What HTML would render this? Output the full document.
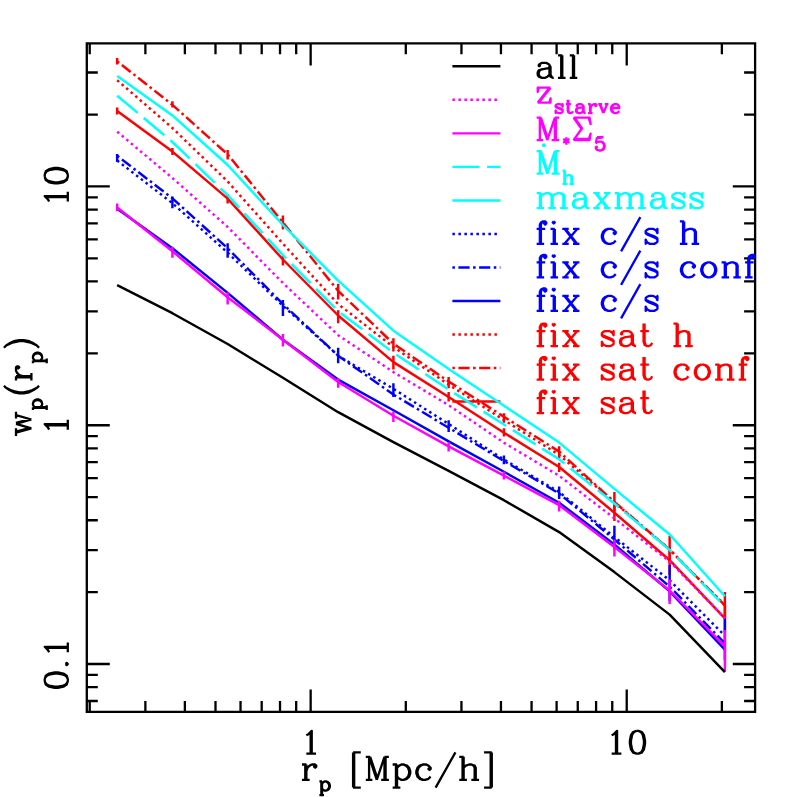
<!DOCTYPE html>
<html lang="en"><head><meta charset="utf-8"><title>w_p(r_p) vs r_p</title>
<style>
html,body{margin:0;padding:0;background:#fff}
body{width:797px;height:797px;overflow:hidden;font-family:"Liberation Serif",serif}
svg{display:block}
.t text{font-family:"Liberation Serif",serif;fill:#000;fill-opacity:0}
</style></head><body>
<svg width="797" height="797" viewBox="0 0 797 797">
<rect width="797" height="797" fill="#fff"/>
<g stroke-linecap="butt">
<path d="M86.8 43.3H755.1V711.9H86.8ZM89.73 711.9v-11M89.73 43.3v11M145.38 711.9v-11M145.38 43.3v11M184.87 711.9v-11M184.87 43.3v11M215.5 711.9v-11M215.5 43.3v11M240.53 711.9v-11M240.53 43.3v11M261.69 711.9v-11M261.69 43.3v11M280.02 711.9v-11M280.02 43.3v11M296.19 711.9v-11M296.19 43.3v11M310.65 711.9v-22.3M310.65 43.3v22.3M405.8 711.9v-11M405.8 43.3v11M461.45 711.9v-11M461.45 43.3v11M500.94 711.9v-11M500.94 43.3v11M531.57 711.9v-11M531.57 43.3v11M556.6 711.9v-11M556.6 43.3v11M577.76 711.9v-11M577.76 43.3v11M596.09 711.9v-11M596.09 43.3v11M612.26 711.9v-11M612.26 43.3v11M626.72 711.9v-22.3M626.72 43.3v22.3M721.87 711.9v-11M721.87 43.3v11M86.8 701.01h11M755.1 701.01h-11M86.8 687.16h11M755.1 687.16h-11M86.8 674.95h11M755.1 674.95h-11M86.8 664.02h23M755.1 664.02h-22.3M86.8 592.14h11M755.1 592.14h-11M86.8 550.09h11M755.1 550.09h-11M86.8 520.25h11M755.1 520.25h-11M86.8 497.11h11M755.1 497.11h-11M86.8 478.21h11M755.1 478.21h-11M86.8 462.22h11M755.1 462.22h-11M86.8 448.37h11M755.1 448.37h-11M86.8 436.16h11M755.1 436.16h-11M86.8 425.23h23M755.1 425.23h-22.3M86.8 353.35h11M755.1 353.35h-11M86.8 311.3h11M755.1 311.3h-11M86.8 281.46h11M755.1 281.46h-11M86.8 258.32h11M755.1 258.32h-11M86.8 239.42h11M755.1 239.42h-11M86.8 223.43h11M755.1 223.43h-11M86.8 209.58h11M755.1 209.58h-11M86.8 197.37h11M755.1 197.37h-11M86.8 186.44h23M755.1 186.44h-22.3M86.8 114.56h11M755.1 114.56h-11M86.8 72.51h11M755.1 72.51h-11" fill="none" stroke="#000" stroke-width="2.3" stroke-linejoin="miter"/>
<path d="M117.15 111 L172.4 151.6 L227.65 198.6 L282.9 259.5 L338.15 315.5 L393.4 362.1 L448.65 397 L503.9 432.7 L559.15 467 L614.4 512.7 L669.65 560.2 L724.9 618.3" fill="none" stroke="#f00" stroke-width="2.45" stroke-linejoin="round"/>
<path d="M117.15 107.6V114.4M172.4 148V155M227.65 194V203.4M282.9 255.8V265.5M338.15 310.2V323.3M393.4 355.8V369.6M448.65 392V401.5M503.9 428.3V436.5M559.15 462.7V472M614.4 505V520.9M669.65 547V575M724.9 605V632" fill="none" stroke="#f00" stroke-width="2.45"/>
<path d="M452.4 401.55H500.4" fill="none" stroke="#f00" stroke-width="2.45" stroke-linejoin="round"/>
<path d="M117.15 61.3 L172.4 104.8 L227.65 154.4 L282.9 222.5 L338.15 290.9 L393.4 343.7 L448.65 381.5 L503.9 416.7 L559.15 451.6 L614.4 502 L669.65 549.6 L724.9 605.5" fill="none" stroke="#f00" stroke-width="2.45" stroke-dasharray="2.5 3.5 11.2 3.5" stroke-linejoin="round"/>
<path d="M117.15 58V64.6M172.4 101.3V107.6M227.65 150V159.5M282.9 215.6V229.5M338.15 283.8V299.5M393.4 338.2V351.4M448.65 377V388.3M503.9 413.2V422.7M559.15 446.3V458.3M614.4 492V511.5M669.65 535.8V563.4M724.9 592V618" fill="none" stroke="#f00" stroke-width="2.45"/>
<path d="M452.4 368.02H500.4" fill="none" stroke="#f00" stroke-width="2.45" stroke-dasharray="2.5 3.5 11.2 3.5" stroke-linejoin="round"/>
<path d="M117.15 80.2 L172.4 128 L227.65 181.5 L282.9 243.7 L338.15 304.1 L393.4 347 L448.65 384.6 L503.9 420 L559.15 454.9 L614.4 502.3 L669.65 549.6 L724.9 605.3" fill="none" stroke="#f00" stroke-width="2.45" stroke-dasharray="2.5 3.5" stroke-linejoin="round"/>
<path d="M452.4 334.5H500.4" fill="none" stroke="#f00" stroke-width="2.45" stroke-dasharray="2.5 3.5" stroke-linejoin="round"/>
<path d="M117.15 208.8 L172.4 248.2 L227.65 292.9 L282.9 339.7 L338.15 379.6 L393.4 410.2 L448.65 441.4 L503.9 471.8 L559.15 502.7 L614.4 544.5 L669.65 591.4 L724.9 649.6" fill="none" stroke="#00f" stroke-width="2.45" stroke-linejoin="round"/>
<path d="M452.4 300.97H500.4" fill="none" stroke="#00f" stroke-width="2.45" stroke-linejoin="round"/>
<path d="M117.15 155.8 L172.4 198.3 L227.65 248.3 L282.9 304 L338.15 355.7 L393.4 394.5 L448.65 427.8 L503.9 461 L559.15 493.5 L614.4 539.5 L669.65 586.6 L724.9 643.4" fill="none" stroke="#00f" stroke-width="2.45" stroke-dasharray="2.5 3.5 11.2 3.5" stroke-linejoin="round"/>
<path d="M117.15 154V162M172.4 196.4V208.2M227.65 243.3V257.7M282.9 300.1V316.1M338.15 347.7V363.3M393.4 383.3V397.1M448.65 420.2V432.1M503.9 455.5V464.3M559.15 486.5V499M614.4 525.7V549.3M669.65 565V601M724.9 618V660" fill="none" stroke="#00f" stroke-width="2.45"/>
<path d="M452.4 267.45H500.4" fill="none" stroke="#00f" stroke-width="2.45" stroke-dasharray="2.5 3.5 11.2 3.5" stroke-linejoin="round"/>
<path d="M117.15 160.5 L172.4 203.2 L227.65 252.7 L282.9 305.8 L338.15 355.7 L393.4 388.8 L448.65 424 L503.9 459.5 L559.15 492 L614.4 537 L669.65 580.3 L724.9 635.9" fill="none" stroke="#00f" stroke-width="2.45" stroke-dasharray="2.5 3.5" stroke-linejoin="round"/>
<path d="M452.4 233.93H500.4" fill="none" stroke="#00f" stroke-width="2.45" stroke-dasharray="2.5 3.5" stroke-linejoin="round"/>
<path d="M117.15 76.1 L172.4 115.4 L227.65 165 L282.9 225 L338.15 280.7 L393.4 330.7 L448.65 368.9 L503.9 405.7 L559.15 442.6 L614.4 488.9 L669.65 534.5 L724.9 596.3" fill="none" stroke="#0ff" stroke-width="2.45" stroke-linejoin="round"/>
<path d="M452.4 200.4H500.4" fill="none" stroke="#0ff" stroke-width="2.45" stroke-linejoin="round"/>
<path d="M117.15 95.7 L172.4 142 L227.65 195.2 L282.9 255.2 L338.15 311.2 L393.4 352.7 L448.65 389.6 L503.9 424.5 L559.15 459.2 L614.4 503.5 L669.65 549.9 L724.9 606.5" fill="none" stroke="#0ff" stroke-width="2.45" stroke-dasharray="26.8 7.9" stroke-linejoin="round"/>
<path d="M452.4 166.88H500.4" fill="none" stroke="#0ff" stroke-width="2.45" stroke-dasharray="26.8 7.9" stroke-linejoin="round"/>
<path d="M117.15 207.5 L172.4 251.3 L227.65 297.3 L282.9 339.7 L338.15 382 L393.4 415.8 L448.65 446.4 L503.9 475.6 L559.15 505.2 L614.4 547 L669.65 590.5 L724.9 646.4" fill="none" stroke="#f0f" stroke-width="2.45" stroke-linejoin="round"/>
<path d="M117.15 203.5V211.3M172.4 246.7V257.7M227.65 292.3V304.5M282.9 334V346.5M338.15 378.3V387.7M393.4 411.4V422.1M448.65 442V451.4M503.9 471.4V479.5M559.15 500.8V511.5M614.4 539.5V556.4M669.65 579.4V603.9M724.9 630V671.4" fill="none" stroke="#f0f" stroke-width="2.45"/>
<path d="M452.4 133.35H500.4" fill="none" stroke="#f0f" stroke-width="2.45" stroke-linejoin="round"/>
<path d="M117.15 131.7 L172.4 178 L227.65 227 L282.9 283 L338.15 335.2 L393.4 372.1 L448.65 405.2 L503.9 442.7 L559.15 475.8 L614.4 518.4 L669.65 561.5 L724.9 618.3" fill="none" stroke="#f0f" stroke-width="2.45" stroke-dasharray="2.5 3.5" stroke-linejoin="round"/>
<path d="M452.4 99.82H500.4" fill="none" stroke="#f0f" stroke-width="2.45" stroke-dasharray="2.5 3.5" stroke-linejoin="round"/>
<path d="M117.15 285.1 L172.4 313.2 L227.65 344 L282.9 377.8 L338.15 412.2 L393.4 442.1 L448.65 470.9 L503.9 500.2 L559.15 532.1 L614.4 572.1 L669.65 614.6 L724.9 672.1" fill="none" stroke="#000" stroke-width="2.45" stroke-linejoin="round"/>
<path d="M452.4 66.3H500.4" fill="none" stroke="#000" stroke-width="2.45" stroke-linejoin="round"/>
<path d="M539.84 64.99 539.84 66.06 538.77 66.06 538.77 64.99 539.84 63.92 541.98 62.85 546.26 62.85 548.4 63.92 549.47 64.99 550.54 67.13 550.54 74.62 551.61 76.77 552.68 77.83M549.47 64.99 549.47 74.62 550.54 76.77 552.68 77.83 553.75 77.83M549.47 67.13 548.4 68.2 541.98 69.27 538.77 70.34 537.7 72.48 537.7 74.62 538.77 76.77 541.98 77.83 545.19 77.83 547.33 76.77 549.47 74.62M541.98 69.27 539.84 70.34 538.77 72.48 538.77 74.62 539.84 76.77 541.98 77.83M561.23 55.36 561.23 77.83M562.29 55.36 562.29 77.83M558.01 55.36 562.29 55.36M558.01 77.83 565.5 77.83M572.98 55.36 572.98 77.83M574.05 55.36 574.05 77.83M569.77 55.36 574.05 55.36M569.77 77.83 577.26 77.83" fill="none" stroke="#000" stroke-width="2.3" stroke-linejoin="round"/>
<path d="M549.47 87.67 537.7 102.65M550.54 87.67 538.77 102.65M538.77 87.67 537.7 91.95 537.7 87.67 550.54 87.67M537.7 102.65 550.54 102.65 550.54 98.37 549.47 102.65M562.01 105.45 562.65 104.17 562.65 106.72 562.01 105.45 561.38 104.81 560.1 104.17 557.56 104.17 556.28 104.81 555.65 105.45 555.65 106.72 556.28 107.36 557.56 107.99 560.74 109.27 562.01 109.9 562.65 110.54M555.65 106.08 556.28 106.72 557.56 107.36 560.74 108.63 562.01 109.27 562.65 109.9 562.65 111.81 562.01 112.45 560.74 113.09 558.19 113.09 556.92 112.45 556.28 111.81 555.65 110.54 555.65 113.09 556.28 111.81M567.73 99.72 567.73 110.54 568.37 112.45 569.64 113.09 570.92 113.09 572.19 112.45 572.83 111.18M568.37 99.72 568.37 110.54 569.01 112.45 569.64 113.09M565.82 104.17 570.92 104.17M577.27 105.45 577.27 106.08 576.64 106.08 576.64 105.45 577.27 104.81 578.55 104.17 581.09 104.17 582.37 104.81 583 105.45 583.64 106.72 583.64 111.18 584.28 112.45 584.91 113.09M583 105.45 583 111.18 583.64 112.45 584.91 113.09 585.55 113.09M583 106.72 582.37 107.36 578.55 107.99 576.64 108.63 576 109.9 576 111.18 576.64 112.45 578.55 113.09 580.46 113.09 581.73 112.45 583 111.18M578.55 107.99 577.27 108.63 576.64 109.9 576.64 111.18 577.27 112.45 578.55 113.09M589.99 104.17 589.99 113.09M590.63 104.17 590.63 113.09M590.63 107.99 591.27 106.08 592.54 104.81 593.81 104.17 595.72 104.17 596.36 104.81 596.36 105.45 595.72 106.08 595.09 105.45 595.72 104.81M588.08 104.17 590.63 104.17M588.08 113.09 592.54 113.09M599.53 104.17 603.35 113.09M600.17 104.17 603.35 111.81M607.17 104.17 603.35 113.09M598.26 104.17 602.08 104.17M604.63 104.17 608.45 104.17M611.62 107.99 619.26 107.99 619.26 106.72 618.62 105.45 617.99 104.81 616.71 104.17 614.8 104.17 612.89 104.81 611.62 106.08 610.98 107.99 610.98 109.27 611.62 111.18 612.89 112.45 614.8 113.09 616.08 113.09 617.99 112.45 619.26 111.18M618.62 107.99 618.62 106.08 617.99 104.81M614.8 104.17 613.53 104.81 612.26 106.08 611.62 107.99 611.62 109.27 612.26 111.18 613.53 112.45 614.8 113.09" fill="none" stroke="#f0f" stroke-width="2.3" stroke-linejoin="round"/>
<path d="M539.84 117.6 539.84 140.07M540.91 117.6 547.33 136.86M539.84 117.6 547.33 140.07M554.82 117.6 547.33 140.07M554.82 117.6 554.82 140.07M555.89 117.6 555.89 140.07M536.63 117.6 540.91 117.6M554.82 117.6 559.1 117.6M536.63 140.07 543.05 140.07M551.61 140.07 559.1 140.07M566.31 137.13 566.31 144.77M563.13 139.04 569.5 142.86M569.5 139.04 563.13 142.86M574.6 117.6 582.09 128.3 573.53 140.07M573.53 117.6 581.02 128.3M573.53 117.6 589.58 117.6 590.65 124.02 588.51 117.6M574.6 139 588.51 139M573.53 140.07 589.58 140.07 590.65 133.65 588.51 140.07M597.03 137.13 595.75 143.5M595.75 143.5 597.03 142.23 598.94 141.59 600.85 141.59 602.76 142.23 604.03 143.5 604.67 145.41 604.67 146.68 604.03 148.59 602.76 149.87 600.85 150.5 598.94 150.5 597.03 149.87 596.39 149.23 595.75 147.96 595.75 147.32 596.39 146.68 597.03 147.32 596.39 147.96M600.85 141.59 602.12 142.23 603.39 143.5 604.03 145.41 604.03 146.68 603.39 148.59 602.12 149.87 600.85 150.5M597.03 137.13 603.39 137.13M597.03 137.77 600.21 137.77 603.39 137.13" fill="none" stroke="#f0f" stroke-width="2.3" stroke-linejoin="round"/>
<path d="M539.84 151.12 539.84 173.59M540.91 151.12 547.33 170.38M539.84 151.12 547.33 173.59M554.82 151.12 547.33 173.59M554.82 151.12 554.82 173.59M555.89 151.12 555.89 173.59M536.63 151.12 540.91 151.12M554.82 151.12 559.1 151.12M536.63 173.59 543.05 173.59M551.61 173.59 559.1 173.59M564.4 170.66 564.4 184.03M565.04 170.66 565.04 184.03M565.04 177.02 566.31 175.75 568.22 175.11 569.49 175.11 571.4 175.75 572.04 177.02 572.04 184.03M569.49 175.11 570.77 175.75 571.4 177.02 571.4 184.03M562.49 170.66 565.04 170.66M562.49 184.03 566.95 184.03M569.49 184.03 573.95 184.03" fill="none" stroke="#0ff" stroke-width="2.3" stroke-linejoin="round"/>
<circle cx="543.9" cy="145.3" r="2" fill="#0ff"/>
<path d="M539.83 193.21 539.83 208.19M540.9 193.21 540.9 208.19M540.9 196.42 543.04 194.28 546.25 193.21 548.39 193.21 551.6 194.28 552.67 196.42 552.67 208.19M548.39 193.21 550.53 194.28 551.6 196.42 551.6 208.19M552.67 196.42 554.81 194.28 558.02 193.21 560.16 193.21 563.37 194.28 564.44 196.42 564.44 208.19M560.16 193.21 562.3 194.28 563.37 196.42 563.37 208.19M536.62 193.21 540.9 193.21M536.62 208.19 544.11 208.19M548.39 208.19 555.88 208.19M560.16 208.19 567.65 208.19M575.12 195.35 575.12 196.42 574.05 196.42 574.05 195.35 575.12 194.28 577.26 193.21 581.54 193.21 583.68 194.28 584.75 195.35 585.82 197.49 585.82 204.98 586.89 207.12 587.96 208.19M584.75 195.35 584.75 204.98 585.82 207.12 587.96 208.19 589.03 208.19M584.75 197.49 583.68 198.56 577.26 199.63 574.05 200.7 572.98 202.84 572.98 204.98 574.05 207.12 577.26 208.19 580.47 208.19 582.61 207.12 584.75 204.98M577.26 199.63 575.12 200.7 574.05 202.84 574.05 204.98 575.12 207.12 577.26 208.19M595.43 193.21 607.2 208.19M596.5 193.21 608.27 208.19M608.27 193.21 595.43 208.19M593.29 193.21 599.71 193.21M603.99 193.21 610.41 193.21M593.29 208.19 599.71 208.19M603.99 208.19 610.41 208.19M617.87 193.21 617.87 208.19M618.94 193.21 618.94 208.19M618.94 196.42 621.08 194.28 624.29 193.21 626.43 193.21 629.64 194.28 630.71 196.42 630.71 208.19M626.43 193.21 628.57 194.28 629.64 196.42 629.64 208.19M630.71 196.42 632.85 194.28 636.06 193.21 638.2 193.21 641.41 194.28 642.48 196.42 642.48 208.19M638.2 193.21 640.34 194.28 641.41 196.42 641.41 208.19M614.66 193.21 618.94 193.21M614.66 208.19 622.15 208.19M626.43 208.19 633.92 208.19M638.2 208.19 645.69 208.19M653.15 195.35 653.15 196.42 652.09 196.42 652.09 195.35 653.15 194.28 655.29 193.21 659.58 193.21 661.72 194.28 662.78 195.35 663.86 197.49 663.86 204.98 664.92 207.12 666 208.19M662.78 195.35 662.78 204.98 663.86 207.12 666 208.19 667.07 208.19M662.78 197.49 661.72 198.56 655.29 199.63 652.09 200.7 651.01 202.84 651.01 204.98 652.09 207.12 655.29 208.19 658.5 208.19 660.64 207.12 662.78 204.98M655.29 199.63 653.15 200.7 652.09 202.84 652.09 204.98 653.15 207.12 655.29 208.19M683.1 195.35 684.17 193.21 684.17 197.49 683.1 195.35 682.03 194.28 679.89 193.21 675.61 193.21 673.47 194.28 672.4 195.35 672.4 197.49 673.47 198.56 675.61 199.63 680.96 201.77 683.1 202.84 684.17 203.91M672.4 196.42 673.47 197.49 675.61 198.56 680.96 200.7 683.1 201.77 684.17 202.84 684.17 206.05 683.1 207.12 680.96 208.19 676.68 208.19 674.54 207.12 673.47 206.05 672.4 203.91 672.4 208.19 673.47 206.05M701.27 195.35 702.34 193.21 702.34 197.49 701.27 195.35 700.2 194.28 698.06 193.21 693.78 193.21 691.64 194.28 690.57 195.35 690.57 197.49 691.64 198.56 693.78 199.63 699.13 201.77 701.27 202.84 702.34 203.91M690.57 196.42 691.64 197.49 693.78 198.56 699.13 200.7 701.27 201.77 702.34 202.84 702.34 206.05 701.27 207.12 699.13 208.19 694.85 208.19 692.71 207.12 691.64 206.05 690.57 203.91 690.57 208.19 691.64 206.05" fill="none" stroke="#0ff" stroke-width="2.3" stroke-linejoin="round"/>
<path d="M545.19 222.46 544.12 223.53 545.19 224.6 546.26 223.53 546.26 222.46 545.19 221.39 543.05 221.39 540.91 222.46 539.84 224.6 539.84 243.86M543.05 221.39 541.98 222.46 540.91 224.6 540.91 243.86M536.63 228.88 545.19 228.88M536.63 243.86 544.12 243.86M553.74 221.39 552.67 222.46 553.74 223.53 554.81 222.46 553.74 221.39M553.74 228.88 553.74 243.86M554.81 228.88 554.81 243.86M550.53 228.88 554.81 228.88M550.53 243.86 558.02 243.86M564.43 228.88 576.2 243.86M565.5 228.88 577.27 243.86M577.27 228.88 564.43 243.86M562.29 228.88 568.71 228.88M572.99 228.88 579.41 228.88M562.29 243.86 568.71 243.86M572.99 243.86 579.41 243.86M614.68 232.09 613.61 233.16 614.68 234.23 615.75 233.16 615.75 232.09 613.61 229.95 611.47 228.88 608.26 228.88 605.05 229.95 602.91 232.09 601.84 235.3 601.84 237.44 602.91 240.65 605.05 242.79 608.26 243.86 610.4 243.86 613.61 242.79 615.75 240.65M608.26 228.88 606.12 229.95 603.98 232.09 602.91 235.3 602.91 237.44 603.98 240.65 606.12 242.79 608.26 243.86M640.34 217.11 621.08 251.35M656.37 231.02 657.44 228.88 657.44 233.16 656.37 231.02 655.3 229.95 653.16 228.88 648.88 228.88 646.74 229.95 645.67 231.02 645.67 233.16 646.74 234.23 648.88 235.3 654.23 237.44 656.37 238.51 657.44 239.58M645.67 232.09 646.74 233.16 648.88 234.23 654.23 236.37 656.37 237.44 657.44 238.51 657.44 241.72 656.37 242.79 654.23 243.86 649.95 243.86 647.81 242.79 646.74 241.72 645.67 239.58 645.67 243.86 646.74 241.72M683.09 221.39 683.09 243.86M684.15 221.39 684.15 243.86M684.15 232.09 686.29 229.95 689.5 228.88 691.64 228.88 694.86 229.95 695.92 232.09 695.92 243.86M691.64 228.88 693.78 229.95 694.86 232.09 694.86 243.86M679.88 221.39 684.15 221.39M679.88 243.86 687.37 243.86M691.64 243.86 699.13 243.86" fill="none" stroke="#00f" stroke-width="2.3" stroke-linejoin="round"/>
<path d="M545.19 255.98 544.12 257.05 545.19 258.12 546.26 257.05 546.26 255.98 545.19 254.91 543.05 254.91 540.91 255.98 539.84 258.12 539.84 277.38M543.05 254.91 541.98 255.98 540.91 258.12 540.91 277.38M536.63 262.4 545.19 262.4M536.63 277.38 544.12 277.38M553.74 254.91 552.67 255.98 553.74 257.05 554.81 255.98 553.74 254.91M553.74 262.4 553.74 277.38M554.81 262.4 554.81 277.38M550.53 262.4 554.81 262.4M550.53 277.38 558.02 277.38M564.43 262.4 576.2 277.38M565.5 262.4 577.27 277.38M577.27 262.4 564.43 277.38M562.29 262.4 568.71 262.4M572.99 262.4 579.41 262.4M562.29 277.38 568.71 277.38M572.99 277.38 579.41 277.38M614.68 265.61 613.61 266.68 614.68 267.75 615.75 266.68 615.75 265.61 613.61 263.47 611.47 262.4 608.26 262.4 605.05 263.47 602.91 265.61 601.84 268.82 601.84 270.96 602.91 274.17 605.05 276.31 608.26 277.38 610.4 277.38 613.61 276.31 615.75 274.17M608.26 262.4 606.12 263.47 603.98 265.61 602.91 268.82 602.91 270.96 603.98 274.17 606.12 276.31 608.26 277.38M640.34 250.63 621.08 284.87M656.37 264.54 657.44 262.4 657.44 266.68 656.37 264.54 655.3 263.47 653.16 262.4 648.88 262.4 646.74 263.47 645.67 264.54 645.67 266.68 646.74 267.75 648.88 268.82 654.23 270.96 656.37 272.03 657.44 273.1M645.67 265.61 646.74 266.68 648.88 267.75 654.23 269.89 656.37 270.96 657.44 272.03 657.44 275.24 656.37 276.31 654.23 277.38 649.95 277.38 647.81 276.31 646.74 275.24 645.67 273.1 645.67 277.38 646.74 275.24M693.79 265.61 692.72 266.68 693.79 267.75 694.86 266.68 694.86 265.61 692.72 263.47 690.58 262.4 687.37 262.4 684.16 263.47 682.02 265.61 680.95 268.82 680.95 270.96 682.02 274.17 684.16 276.31 687.37 277.38 689.51 277.38 692.72 276.31 694.86 274.17M687.37 262.4 685.23 263.47 683.09 265.61 682.02 268.82 682.02 270.96 683.09 274.17 685.23 276.31 687.37 277.38M707.68 262.4 704.47 263.47 702.33 265.61 701.26 268.82 701.26 270.96 702.33 274.17 704.47 276.31 707.68 277.38 709.82 277.38 713.03 276.31 715.17 274.17 716.24 270.96 716.24 268.82 715.17 265.61 713.03 263.47 709.82 262.4 707.68 262.4M707.68 262.4 705.54 263.47 703.4 265.61 702.33 268.82 702.33 270.96 703.4 274.17 705.54 276.31 707.68 277.38M709.82 277.38 711.96 276.31 714.1 274.17 715.17 270.96 715.17 268.82 714.1 265.61 711.96 263.47 709.82 262.4M724.78 262.4 724.78 277.38M725.85 262.4 725.85 277.38M725.85 265.61 727.99 263.47 731.2 262.4 733.34 262.4 736.55 263.47 737.62 265.61 737.62 277.38M733.34 262.4 735.48 263.47 736.55 265.61 736.55 277.38M721.57 262.4 725.85 262.4M721.57 277.38 729.06 277.38M733.34 277.38 740.83 277.38M753.65 255.98 752.58 257.05 753.65 258.12 754.72 257.05 754.72 255.98 753.65 254.91 751.51 254.91 749.37 255.98 748.3 258.12 748.3 277.38M751.51 254.91 750.44 255.98 749.37 258.12 749.37 277.38M745.09 262.4 753.65 262.4M745.09 277.38 752.58 277.38" fill="none" stroke="#00f" stroke-width="2.3" stroke-linejoin="round"/>
<path d="M545.19 289.5 544.12 290.57 545.19 291.64 546.26 290.57 546.26 289.5 545.19 288.43 543.05 288.43 540.91 289.5 539.84 291.64 539.84 310.9M543.05 288.43 541.98 289.5 540.91 291.64 540.91 310.9M536.63 295.92 545.19 295.92M536.63 310.9 544.12 310.9M553.74 288.43 552.67 289.5 553.74 290.57 554.81 289.5 553.74 288.43M553.74 295.92 553.74 310.9M554.81 295.92 554.81 310.9M550.53 295.92 554.81 295.92M550.53 310.9 558.02 310.9M564.43 295.92 576.2 310.9M565.5 295.92 577.27 310.9M577.27 295.92 564.43 310.9M562.29 295.92 568.71 295.92M572.99 295.92 579.41 295.92M562.29 310.9 568.71 310.9M572.99 310.9 579.41 310.9M614.68 299.13 613.61 300.2 614.68 301.27 615.75 300.2 615.75 299.13 613.61 296.99 611.47 295.92 608.26 295.92 605.05 296.99 602.91 299.13 601.84 302.34 601.84 304.48 602.91 307.69 605.05 309.83 608.26 310.9 610.4 310.9 613.61 309.83 615.75 307.69M608.26 295.92 606.12 296.99 603.98 299.13 602.91 302.34 602.91 304.48 603.98 307.69 606.12 309.83 608.26 310.9M640.34 284.15 621.08 318.39M656.37 298.06 657.44 295.92 657.44 300.2 656.37 298.06 655.3 296.99 653.16 295.92 648.88 295.92 646.74 296.99 645.67 298.06 645.67 300.2 646.74 301.27 648.88 302.34 654.23 304.48 656.37 305.55 657.44 306.62M645.67 299.13 646.74 300.2 648.88 301.27 654.23 303.41 656.37 304.48 657.44 305.55 657.44 308.76 656.37 309.83 654.23 310.9 649.95 310.9 647.81 309.83 646.74 308.76 645.67 306.62 645.67 310.9 646.74 308.76" fill="none" stroke="#00f" stroke-width="2.3" stroke-linejoin="round"/>
<path d="M545.19 324.64 544.12 325.71 545.19 326.78 546.26 325.71 546.26 324.64 545.19 323.56 543.05 323.56 540.91 324.64 539.84 326.78 539.84 346.04M543.05 323.56 541.98 324.64 540.91 326.78 540.91 346.04M536.63 331.06 545.19 331.06M536.63 346.04 544.12 346.04M553.74 323.56 552.67 324.64 553.74 325.71 554.81 324.64 553.74 323.56M553.74 331.06 553.74 346.04M554.81 331.06 554.81 346.04M550.53 331.06 554.81 331.06M550.53 346.04 558.02 346.04M564.43 331.06 576.2 346.04M565.5 331.06 577.27 346.04M577.27 331.06 564.43 346.04M562.29 331.06 568.71 331.06M572.99 331.06 579.41 331.06M562.29 346.04 568.71 346.04M572.99 346.04 579.41 346.04M612.54 333.2 613.61 331.06 613.61 335.34 612.54 333.2 611.47 332.12 609.33 331.06 605.05 331.06 602.91 332.12 601.84 333.2 601.84 335.34 602.91 336.41 605.05 337.48 610.4 339.62 612.54 340.69 613.61 341.76M601.84 334.27 602.91 335.34 605.05 336.41 610.4 338.55 612.54 339.62 613.61 340.69 613.61 343.9 612.54 344.97 610.4 346.04 606.12 346.04 603.98 344.97 602.91 343.9 601.84 341.76 601.84 346.04 602.91 343.9M622.15 333.2 622.15 334.27 621.08 334.27 621.08 333.2 622.15 332.12 624.29 331.06 628.57 331.06 630.71 332.12 631.78 333.2 632.85 335.34 632.85 342.83 633.92 344.97 634.99 346.04M631.78 333.2 631.78 342.83 632.85 344.97 634.99 346.04 636.06 346.04M631.78 335.34 630.71 336.41 624.29 337.48 621.08 338.55 620.01 340.69 620.01 342.83 621.08 344.97 624.29 346.04 627.5 346.04 629.64 344.97 631.78 342.83M624.29 337.48 622.15 338.55 621.08 340.69 621.08 342.83 622.15 344.97 624.29 346.04M643.54 323.56 643.54 341.76 644.61 344.97 646.75 346.04 648.89 346.04 651.03 344.97 652.1 342.83M644.61 323.56 644.61 341.76 645.68 344.97 646.75 346.04M640.33 331.06 648.89 331.06M676.67 323.56 676.67 346.04M677.74 323.56 677.74 346.04M677.74 334.27 679.88 332.12 683.09 331.06 685.23 331.06 688.44 332.12 689.51 334.27 689.51 346.04M685.23 331.06 687.37 332.12 688.44 334.27 688.44 346.04M673.46 323.56 677.74 323.56M673.46 346.04 680.95 346.04M685.23 346.04 692.72 346.04" fill="none" stroke="#f00" stroke-width="2.3" stroke-linejoin="round"/>
<path d="M545.19 358.16 544.12 359.23 545.19 360.3 546.26 359.23 546.26 358.16 545.19 357.09 543.05 357.09 540.91 358.16 539.84 360.3 539.84 379.56M543.05 357.09 541.98 358.16 540.91 360.3 540.91 379.56M536.63 364.58 545.19 364.58M536.63 379.56 544.12 379.56M553.74 357.09 552.67 358.16 553.74 359.23 554.81 358.16 553.74 357.09M553.74 364.58 553.74 379.56M554.81 364.58 554.81 379.56M550.53 364.58 554.81 364.58M550.53 379.56 558.02 379.56M564.43 364.58 576.2 379.56M565.5 364.58 577.27 379.56M577.27 364.58 564.43 379.56M562.29 364.58 568.71 364.58M572.99 364.58 579.41 364.58M562.29 379.56 568.71 379.56M572.99 379.56 579.41 379.56M612.54 366.72 613.61 364.58 613.61 368.86 612.54 366.72 611.47 365.65 609.33 364.58 605.05 364.58 602.91 365.65 601.84 366.72 601.84 368.86 602.91 369.93 605.05 371 610.4 373.14 612.54 374.21 613.61 375.28M601.84 367.79 602.91 368.86 605.05 369.93 610.4 372.07 612.54 373.14 613.61 374.21 613.61 377.42 612.54 378.49 610.4 379.56 606.12 379.56 603.98 378.49 602.91 377.42 601.84 375.28 601.84 379.56 602.91 377.42M622.15 366.72 622.15 367.79 621.08 367.79 621.08 366.72 622.15 365.65 624.29 364.58 628.57 364.58 630.71 365.65 631.78 366.72 632.85 368.86 632.85 376.35 633.92 378.49 634.99 379.56M631.78 366.72 631.78 376.35 632.85 378.49 634.99 379.56 636.06 379.56M631.78 368.86 630.71 369.93 624.29 371 621.08 372.07 620.01 374.21 620.01 376.35 621.08 378.49 624.29 379.56 627.5 379.56 629.64 378.49 631.78 376.35M624.29 371 622.15 372.07 621.08 374.21 621.08 376.35 622.15 378.49 624.29 379.56M643.54 357.09 643.54 375.28 644.61 378.49 646.75 379.56 648.89 379.56 651.03 378.49 652.1 376.35M644.61 357.09 644.61 375.28 645.68 378.49 646.75 379.56M640.33 364.58 648.89 364.58M687.37 367.79 686.3 368.86 687.37 369.93 688.44 368.86 688.44 367.79 686.3 365.65 684.16 364.58 680.95 364.58 677.74 365.65 675.6 367.79 674.53 371 674.53 373.14 675.6 376.35 677.74 378.49 680.95 379.56 683.09 379.56 686.3 378.49 688.44 376.35M680.95 364.58 678.81 365.65 676.67 367.79 675.6 371 675.6 373.14 676.67 376.35 678.81 378.49 680.95 379.56M701.26 364.58 698.05 365.65 695.91 367.79 694.84 371 694.84 373.14 695.91 376.35 698.05 378.49 701.26 379.56 703.4 379.56 706.61 378.49 708.75 376.35 709.82 373.14 709.82 371 708.75 367.79 706.61 365.65 703.4 364.58 701.26 364.58M701.26 364.58 699.12 365.65 696.98 367.79 695.91 371 695.91 373.14 696.98 376.35 699.12 378.49 701.26 379.56M703.4 379.56 705.54 378.49 707.68 376.35 708.75 373.14 708.75 371 707.68 367.79 705.54 365.65 703.4 364.58M718.36 364.58 718.36 379.56M719.43 364.58 719.43 379.56M719.43 367.79 721.57 365.65 724.78 364.58 726.92 364.58 730.13 365.65 731.2 367.79 731.2 379.56M726.92 364.58 729.06 365.65 730.13 367.79 730.13 379.56M715.15 364.58 719.43 364.58M715.15 379.56 722.64 379.56M726.92 379.56 734.41 379.56M747.23 358.16 746.16 359.23 747.23 360.3 748.3 359.23 748.3 358.16 747.23 357.09 745.09 357.09 742.95 358.16 741.88 360.3 741.88 379.56M745.09 357.09 744.02 358.16 742.95 360.3 742.95 379.56M738.67 364.58 747.23 364.58M738.67 379.56 746.16 379.56" fill="none" stroke="#f00" stroke-width="2.3" stroke-linejoin="round"/>
<path d="M545.19 391.69 544.12 392.76 545.19 393.83 546.26 392.76 546.26 391.69 545.19 390.62 543.05 390.62 540.91 391.69 539.84 393.83 539.84 413.09M543.05 390.62 541.98 391.69 540.91 393.83 540.91 413.09M536.63 398.11 545.19 398.11M536.63 413.09 544.12 413.09M553.74 390.62 552.67 391.69 553.74 392.76 554.81 391.69 553.74 390.62M553.74 398.11 553.74 413.09M554.81 398.11 554.81 413.09M550.53 398.11 554.81 398.11M550.53 413.09 558.02 413.09M564.43 398.11 576.2 413.09M565.5 398.11 577.27 413.09M577.27 398.11 564.43 413.09M562.29 398.11 568.71 398.11M572.99 398.11 579.41 398.11M562.29 413.09 568.71 413.09M572.99 413.09 579.41 413.09M612.54 400.25 613.61 398.11 613.61 402.39 612.54 400.25 611.47 399.18 609.33 398.11 605.05 398.11 602.91 399.18 601.84 400.25 601.84 402.39 602.91 403.46 605.05 404.53 610.4 406.67 612.54 407.74 613.61 408.81M601.84 401.32 602.91 402.39 605.05 403.46 610.4 405.6 612.54 406.67 613.61 407.74 613.61 410.95 612.54 412.02 610.4 413.09 606.12 413.09 603.98 412.02 602.91 410.95 601.84 408.81 601.84 413.09 602.91 410.95M622.15 400.25 622.15 401.32 621.08 401.32 621.08 400.25 622.15 399.18 624.29 398.11 628.57 398.11 630.71 399.18 631.78 400.25 632.85 402.39 632.85 409.88 633.92 412.02 634.99 413.09M631.78 400.25 631.78 409.88 632.85 412.02 634.99 413.09 636.06 413.09M631.78 402.39 630.71 403.46 624.29 404.53 621.08 405.6 620.01 407.74 620.01 409.88 621.08 412.02 624.29 413.09 627.5 413.09 629.64 412.02 631.78 409.88M624.29 404.53 622.15 405.6 621.08 407.74 621.08 409.88 622.15 412.02 624.29 413.09M643.54 390.62 643.54 408.81 644.61 412.02 646.75 413.09 648.89 413.09 651.03 412.02 652.1 409.88M644.61 390.62 644.61 408.81 645.68 412.02 646.75 413.09M640.33 398.11 648.89 398.11" fill="none" stroke="#f00" stroke-width="2.3" stroke-linejoin="round"/>
<path d="M305.27 764.5 305.27 779.9M306.37 764.5 306.37 779.9M306.37 771.1 307.47 767.8 309.67 765.6 311.87 764.5 315.17 764.5 316.27 765.6 316.27 766.7 315.17 767.8 314.07 766.7 315.17 765.6M301.97 764.5 306.37 764.5M301.97 779.9 309.67 779.9M321.36 781.46 321.36 795.21M322.01 781.46 322.01 795.21M322.01 783.43 323.32 782.12 324.63 781.46 325.94 781.46 327.91 782.12 329.21 783.43 329.87 785.39 329.87 786.7 329.21 788.66 327.91 789.97 325.94 790.62 324.63 790.62 323.32 789.97 322.01 788.66M325.94 781.46 327.25 782.12 328.56 783.43 329.21 785.39 329.21 786.7 328.56 788.66 327.25 789.97 325.94 790.62M319.4 781.46 322.01 781.46M319.4 795.21 323.98 795.21M353.08 752.4 353.08 787.6M354.18 752.4 354.18 787.6M353.08 752.4 360.78 752.4M353.08 787.6 360.78 787.6M369.09 756.8 369.09 779.9M370.19 756.8 376.79 776.6M369.09 756.8 376.79 779.9M384.49 756.8 376.79 779.9M384.49 756.8 384.49 779.9M385.59 756.8 385.59 779.9M365.79 756.8 370.19 756.8M384.49 756.8 388.89 756.8M365.79 779.9 372.39 779.9M381.19 779.9 388.89 779.9M395.96 764.5 395.96 787.6M397.06 764.5 397.06 787.6M397.06 767.8 399.26 765.6 401.46 764.5 403.66 764.5 406.96 765.6 409.16 767.8 410.26 771.1 410.26 773.3 409.16 776.6 406.96 778.8 403.66 779.9 401.46 779.9 399.26 778.8 397.06 776.6M403.66 764.5 405.86 765.6 408.06 767.8 409.16 771.1 409.16 773.3 408.06 776.6 405.86 778.8 403.66 779.9M392.66 764.5 397.06 764.5M392.66 787.6 400.36 787.6M429.54 767.8 428.44 768.9 429.54 770 430.64 768.9 430.64 767.8 428.44 765.6 426.24 764.5 422.94 764.5 419.64 765.6 417.44 767.8 416.34 771.1 416.34 773.3 417.44 776.6 419.64 778.8 422.94 779.9 425.14 779.9 428.44 778.8 430.64 776.6M422.94 764.5 420.74 765.6 418.54 767.8 417.44 771.1 417.44 773.3 418.54 776.6 420.74 778.8 422.94 779.9M455.42 752.4 435.62 787.6M462.55 756.8 462.55 779.9M463.65 756.8 463.65 779.9M463.65 767.8 465.85 765.6 469.15 764.5 471.35 764.5 474.65 765.6 475.75 767.8 475.75 779.9M471.35 764.5 473.55 765.6 474.65 767.8 474.65 779.9M459.25 756.8 463.65 756.8M459.25 779.9 466.95 779.9M471.35 779.9 479.05 779.9M490.68 752.4 490.68 787.6M491.78 752.4 491.78 787.6M484.08 752.4 491.78 752.4M484.08 787.6 491.78 787.6" fill="none" stroke="#000" stroke-width="2.3" stroke-linejoin="round"/>
<path d="M306.32 735.24 308.48 734.16 311.73 730.91 311.73 753.65M310.65 731.99 310.65 753.65M306.32 753.65 316.06 753.65" fill="none" stroke="#000" stroke-width="2.3" stroke-linejoin="round"/>
<path d="M611.65 735.24 613.81 734.16 617.06 730.91 617.06 753.65M615.98 731.99 615.98 753.65M611.65 753.65 621.39 753.65M636.38 730.91 633.13 731.99 630.96 735.24 629.88 740.65 629.88 743.9 630.96 749.32 633.13 752.57 636.38 753.65 638.54 753.65 641.79 752.57 643.96 749.32 645.04 743.9 645.04 740.65 643.96 735.24 641.79 731.99 638.54 730.91 636.38 730.91M636.38 730.91 634.21 731.99 633.13 733.07 632.04 735.24 630.96 740.65 630.96 743.9 632.04 749.32 633.13 751.48 634.21 752.57 636.38 753.65M638.54 753.65 640.71 752.57 641.79 751.48 642.88 749.32 643.96 743.9 643.96 740.65 642.88 735.24 641.79 733.07 640.71 731.99 638.54 730.91" fill="none" stroke="#000" stroke-width="2.3" stroke-linejoin="round"/>
<path d="M49.1 201.58 48 199.38 44.7 196.08 67.8 196.08M45.8 197.18 67.8 197.18M67.8 201.58 67.8 191.68M44.7 176.8 45.8 180.1 49.1 182.3 54.6 183.4 57.9 183.4 63.4 182.3 66.7 180.1 67.8 176.8 67.8 174.6 66.7 171.3 63.4 169.1 57.9 168 54.6 168 49.1 169.1 45.8 171.3 44.7 174.6 44.7 176.8M44.7 176.8 45.8 179 46.9 180.1 49.1 181.2 54.6 182.3 57.9 182.3 63.4 181.2 65.6 180.1 66.7 179 67.8 176.8M67.8 174.6 66.7 172.4 65.6 171.3 63.4 170.2 57.9 169.1 54.6 169.1 49.1 170.2 46.9 171.3 45.8 172.4 44.7 174.6" fill="none" stroke="#000" stroke-width="2.3" stroke-linejoin="round"/>
<path d="M49.1 429.63 48 427.43 44.7 424.13 67.8 424.13M45.8 425.23 67.8 425.23M67.8 429.63 67.8 419.73" fill="none" stroke="#000" stroke-width="2.3" stroke-linejoin="round"/>
<path d="M44.7 681.23 45.8 684.53 49.1 686.73 54.6 687.83 57.9 687.83 63.4 686.73 66.7 684.53 67.8 681.23 67.8 679.03 66.7 675.73 63.4 673.53 57.9 672.43 54.6 672.43 49.1 673.53 45.8 675.73 44.7 679.03 44.7 681.23M44.7 681.23 45.8 683.43 46.9 684.53 49.1 685.63 54.6 686.73 57.9 686.73 63.4 685.63 65.6 684.53 66.7 683.43 67.8 681.23M67.8 679.03 66.7 676.83 65.6 675.73 63.4 674.63 57.9 673.53 54.6 673.53 49.1 674.63 46.9 675.73 45.8 676.83 44.7 679.03M65.6 664.02 66.7 665.12 67.8 664.02 66.7 662.92 65.6 664.02M49.1 652.31 48 650.11 44.7 646.81 67.8 646.81M45.8 647.91 67.8 647.91M67.8 652.31 67.8 642.41" fill="none" stroke="#000" stroke-width="2.3" stroke-linejoin="round"/>
<path d="M16 432.71 31.4 428.31M16 431.61 28.1 428.31M16 423.91 31.4 428.31M16 423.91 31.4 419.51M16 422.81 28.1 419.51M16 415.11 31.4 419.51M16 436.01 16 428.31M16 418.41 16 411.81M32.96 407.92 46.71 407.92M32.96 407.27 46.71 407.27M34.93 407.27 33.62 405.96 32.96 404.65 32.96 403.34 33.62 401.38 34.93 400.07 36.89 399.41 38.2 399.41 40.16 400.07 41.47 401.38 42.12 403.34 42.12 404.65 41.47 405.96 40.16 407.27M32.96 403.34 33.62 402.03 34.93 400.72 36.89 400.07 38.2 400.07 40.16 400.72 41.47 402.03 42.12 403.34M32.96 409.89 32.96 407.27M46.71 409.89 46.71 405.3M3.9 385.69 6.1 387.89 9.4 390.09 13.8 392.29 19.3 393.39 23.7 393.39 29.2 392.29 33.6 390.09 36.9 387.89 39.1 385.69M6.1 387.89 10.5 390.09 13.8 391.19 19.3 392.29 23.7 392.29 29.2 391.19 32.5 390.09 36.9 387.89M16 377.3 31.4 377.3M16 376.2 31.4 376.2M22.6 376.2 19.3 375.1 17.1 372.9 16 370.7 16 367.4 17.1 366.3 18.2 366.3 19.3 367.4 18.2 368.5 17.1 367.4M16 380.6 16 376.2M31.4 380.6 31.4 372.9M32.96 361.21 46.71 361.21M32.96 360.55 46.71 360.55M34.93 360.55 33.62 359.24 32.96 357.94 32.96 356.63 33.62 354.66 34.93 353.35 36.89 352.7 38.2 352.7 40.16 353.35 41.47 354.66 42.12 356.63 42.12 357.94 41.47 359.24 40.16 360.55M32.96 356.63 33.62 355.32 34.93 354.01 36.89 353.35 38.2 353.35 40.16 354.01 41.47 355.32 42.12 356.63M32.96 363.17 32.96 360.55M46.71 363.17 46.71 358.59M3.9 347.77 6.1 345.57 9.4 343.37 13.8 341.17 19.3 340.07 23.7 340.07 29.2 341.17 33.6 343.37 36.9 345.57 39.1 347.77M6.1 345.57 10.5 343.37 13.8 342.27 19.3 341.17 23.7 341.17 29.2 342.27 32.5 343.37 36.9 345.57" fill="none" stroke="#000" stroke-width="2.3" stroke-linejoin="round"/>
</g>
<g class="t">
<text x="536" y="77.3" font-size="30">all</text>
<text x="536" y="110.8" font-size="30">z<tspan dy="8" font-size="18">starve</tspan></text>
<text x="536" y="144.3" font-size="30">M<tspan dy="8" font-size="18">*</tspan><tspan dy="-8">Σ</tspan><tspan dy="8" font-size="18">5</tspan></text>
<text x="536" y="177.9" font-size="30">Ṁ<tspan dy="8" font-size="18">h</tspan></text>
<text x="536" y="211.4" font-size="30">maxmass</text>
<text x="536" y="244.9" font-size="30">fix c/s h</text>
<text x="536" y="278.4" font-size="30">fix c/s conf</text>
<text x="536" y="312.0" font-size="30">fix c/s</text>
<text x="536" y="345.5" font-size="30">fix sat h</text>
<text x="536" y="379.0" font-size="30">fix sat conf</text>
<text x="536" y="412.6" font-size="30">fix sat</text>
<text x="302" y="780" font-size="30">r<tspan dy="8" font-size="18">p</tspan><tspan dy="-8"> [Mpc/h]</tspan></text>
<text x="304" y="753" font-size="30">1</text>
<text x="610" y="753" font-size="30">10</text>
<text x="68" y="203" font-size="30" transform="rotate(-90 68 203)">10</text>
<text x="68" y="431" font-size="30" transform="rotate(-90 68 431)">1</text>
<text x="68" y="685" font-size="30" transform="rotate(-90 68 685)">0.1</text>
<text x="31" y="436" font-size="30" transform="rotate(-90 31 436)">w<tspan dy="8" font-size="18">p</tspan><tspan dy="-8">(r</tspan><tspan dy="8" font-size="18">p</tspan><tspan dy="-8">)</tspan></text>
</g>
</svg>
</body></html>
